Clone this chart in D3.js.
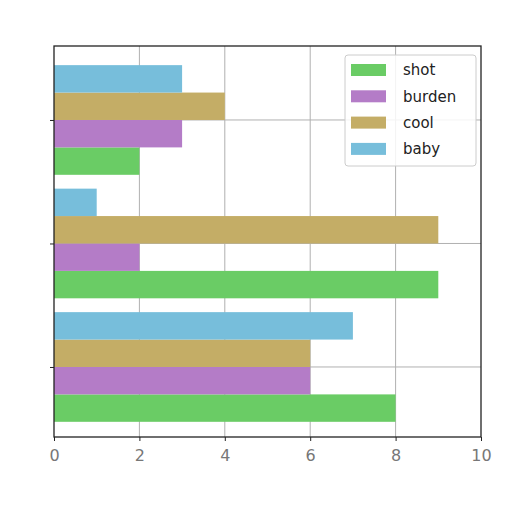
<!DOCTYPE html>
<html>
<head>
<meta charset="UTF-8">
<title>Grouped bars</title>
<style>
  body { margin: 0; background: #fff; }
  .grid line { stroke: #b0b0b0; stroke-width: 1; }
  .axis text { font: 16px "DejaVu Sans", sans-serif; fill: #777; }
  .legend text { font: 15px "DejaVu Sans", sans-serif; fill: #222; }
</style>
</head>
<body>
<svg width="512" height="512"></svg>
<script src="https://d3js.org/d3.v7.min.js"></script>
<script>
var series = ["shot", "burden", "cool", "baby"];
var colors = ["#6acc65", "#b47cc7", "#c4ad66", "#77bedb"];
// one value per group, groups bottom to top
var shot   = [8, 9, 2];
var burden = [6, 2, 3];
var cool   = [6, 9, 4];
var baby   = [7, 1, 3];
var xTicks = [0, 2, 4, 6, 8, 10];

var values = [shot, burden, cool, baby];

var svg = d3.select("svg");
var plotL = 54, plotR = 481, plotT = 46, plotB = 437;

var x = d3.scaleLinear().domain([0, 10]).range([plotL, plotR]);
var y = d3.scaleLinear().domain([-0.567, 2.599]).range([plotB, plotT]);
var barH = 0.222;

svg.append("rect")
    .attr("x", plotL).attr("y", plotT)
    .attr("width", plotR - plotL).attr("height", plotB - plotT)
    .attr("fill", "#fff");

var grid = svg.append("g").attr("class", "grid");
grid.selectAll("line.v").data(xTicks.slice(1, -1)).enter().append("line")
    .attr("class", "v")
    .attr("x1", function(d) { return x(d); }).attr("x2", function(d) { return x(d); })
    .attr("y1", plotT).attr("y2", plotB);
grid.selectAll("line.h").data([0, 1, 2]).enter().append("line")
    .attr("class", "h")
    .attr("x1", plotL).attr("x2", plotR)
    .attr("y1", function(d) { return y(d); }).attr("y2", function(d) { return y(d); });

var bars = svg.append("g");
series.forEach(function(name, s) {
    bars.selectAll("rect.s" + s).data(values[s]).enter().append("rect")
        .attr("class", "s" + s)
        .attr("x", x(0))
        .attr("y", function(d, i) { return y(i - 2 * barH + (s + 1) * barH); })
        .attr("width", function(d) { return x(d) - x(0); })
        .attr("height", y(0) - y(barH))
        .attr("fill", colors[s]);
});

svg.append("rect")
    .attr("x", plotL).attr("y", plotT)
    .attr("width", plotR - plotL).attr("height", plotB - plotT)
    .attr("fill", "none").attr("stroke", "#222").attr("stroke-width", 1.3);

var xAxis = svg.append("g").attr("class", "axis")
    .attr("transform", "translate(0," + plotB + ")")
    .call(d3.axisBottom(x).tickValues(xTicks).tickSize(4).tickPadding(9));
xAxis.select(".domain").remove();
xAxis.selectAll("line").attr("stroke", "#222");

var yAxis = svg.append("g")
    .attr("transform", "translate(" + plotL + ",0)")
    .call(d3.axisLeft(y).tickValues([0, 1, 2]).tickSize(4).tickFormat(""));
yAxis.select(".domain").remove();
yAxis.selectAll("line").attr("stroke", "#222");

var legend = svg.append("g").attr("class", "legend");
legend.append("rect")
    .attr("x", 345).attr("y", 55).attr("width", 131).attr("height", 111)
    .attr("rx", 3).attr("fill", "#fff").attr("fill-opacity", 0.85)
    .attr("stroke", "#ccc");
series.forEach(function(name, s) {
    var cy = 70 + s * 26.3;
    legend.append("rect")
        .attr("x", 351).attr("y", cy - 6).attr("width", 35).attr("height", 12)
        .attr("fill", colors[s]);
    legend.append("text")
        .attr("x", 403).attr("y", cy).attr("dy", "0.35em").text(name);
});
</script>
</body>
</html>
